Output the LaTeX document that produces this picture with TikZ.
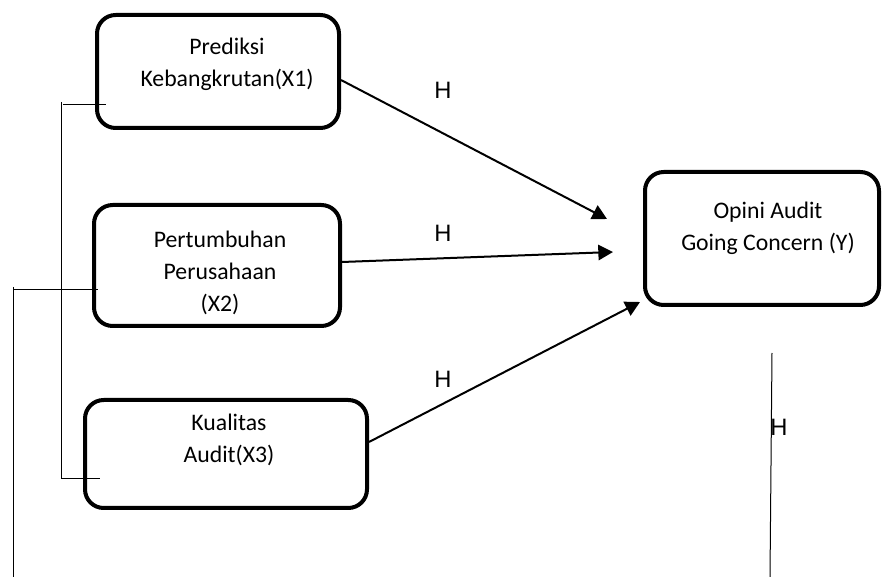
\documentclass[tikz,border=0pt]{standalone}
\usepackage{fontspec}
\setmainfont{Carlito}
\newfontfamily\hfont{Liberation Sans}
\usetikzlibrary{arrows.meta,calc}
\begin{document}
\begin{tikzpicture}[x=0.75pt,y=-0.75pt,
  box/.style={draw=black,line width=3pt,rounded corners=14pt,inner sep=0pt,fill=none},
  lbl/.style={align=center,font=\fontsize{17.8pt}{24pt}\selectfont,inner sep=0pt},
  hlbl/.style={font=\hfont\fontsize{17.8pt}{24pt}\selectfont,inner sep=0pt},
  arr/.style={line width=1.5pt,-{Triangle[length=11pt,width=11.5pt]}},
  thin/.style={line width=0.75pt}]
\useasboundingbox[fill=white] (0,0) rectangle (883,577);
% boxes
\node[box,minimum width=242*0.75pt,minimum height=113*0.75pt] (b1) at (218,71.5) {};
\node[box,minimum width=246*0.75pt,minimum height=121*0.75pt] (b2) at (217,265.5) {};
\node[box,minimum width=282*0.75pt,minimum height=108*0.75pt] (b3) at (226,454) {};
\node[box,minimum width=234*0.75pt,minimum height=133*0.75pt] (by) at (762,238.5) {};
% texts
\node[lbl] (t1) at (227,64) {Prediksi\\Kebangkrutan(X1)};
\node[lbl] (t2) at (220,273) {Pertumbuhan\\Perusahaan\\(X2)};
\node[lbl] (t3) at (229,440) {Kualitas\\Audit(X3)};
\node[lbl] (ty) at (768,228) {Opini Audit\\Going Concern (Y)};
% arrow tips
\coordinate (e1) at (607,219);
\coordinate (e2) at (613,252);
\coordinate (e3) at (640,302);
\draw[arr] ([yshift=-8.5*0.75pt]b1.east) -- (e1);
\draw[arr] ([yshift=3.5*0.75pt]b2.east) -- (e2);
\draw[arr] ([yshift=12*0.75pt]b3.east) -- (e3);
% H labels
\node[hlbl] (h1) at (443,90) {H};
\node[hlbl] (h2) at (443,233) {H};
\node[hlbl] (h3) at (443,379) {H};
\node[hlbl] (h4) at (779,427) {H};
% thin lines
\coordinate (k1) at (61,102);
\coordinate (k2) at (61,479);
\coordinate (k3) at (63,105);
\coordinate (k4) at (106,105);
\coordinate (k5) at (100,479);
\coordinate (l1) at (13,290);
\coordinate (l2) at (98,290);
\coordinate (l3) at (13,287);
\coordinate (l4) at (13,577);
\coordinate (r1) at (772,353);
\coordinate (r2) at (770,577);
\draw[thin] (k1) -- (k2) -- (k5);
\draw[thin] (k3) -- (k4);
\draw[thin] (l1) -- (l2);
\draw[thin] (l3) -- (l4);
\draw[thin] (r1) -- (r2);
\end{tikzpicture}
\end{document}
